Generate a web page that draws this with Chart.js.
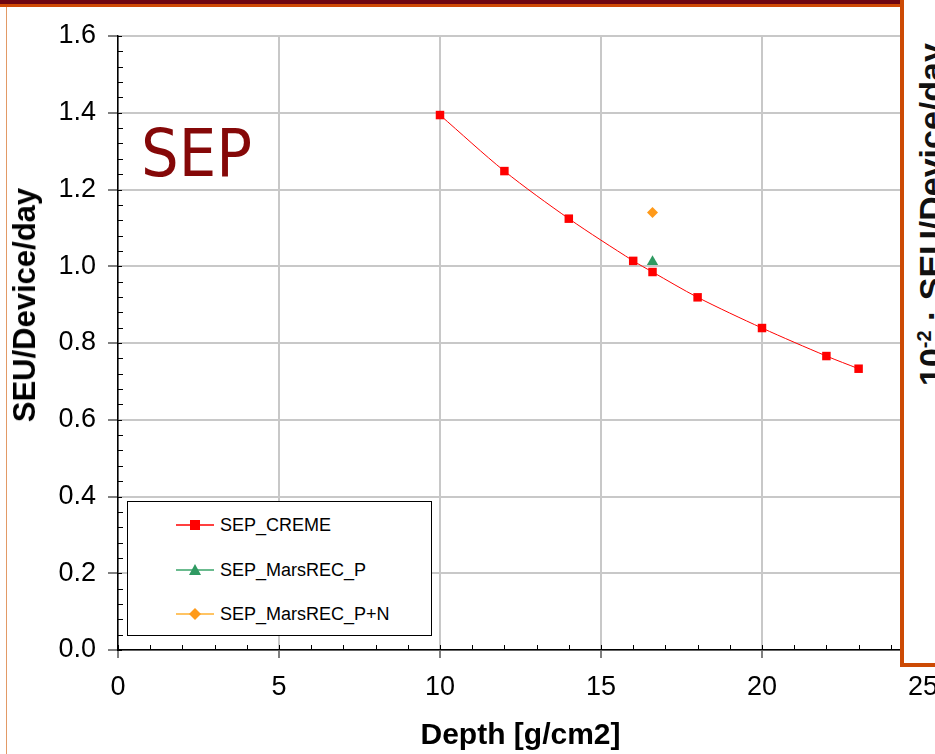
<!DOCTYPE html>
<html><head><meta charset="utf-8">
<script src="https://cdn.jsdelivr.net/npm/chart.js@4/dist/chart.umd.min.js"></script>
<style>
html,body{margin:0;padding:0;background:#fff;width:935px;height:754px;overflow:hidden;}
#wrap{position:relative;width:935px;height:754px;overflow:hidden;background:#fff;}
#c{position:absolute;left:0;top:0;}
#topbar1{position:absolute;left:0;top:0;width:935px;height:4px;background:#6e0612;}
#topbar2{position:absolute;left:0;top:4px;width:935px;height:3px;background:#cf4a06;}
#leftline{position:absolute;left:6px;top:7px;width:1px;height:747px;background:#e29a66;}
#rightbox{position:absolute;left:900px;top:0;width:60px;height:663px;border-left:4px solid #cc4a04;border-bottom:4px solid #cc4a04;background:#fff;}
#rtext{position:absolute;left:912px;top:386px;transform:rotate(-90deg);transform-origin:0 0;white-space:nowrap;font:bold 34px "Liberation Sans",Arial,sans-serif;color:#111;line-height:1.15;}
#rtext sup{font-size:20px;}
#ytitle{position:absolute;left:25px;top:305px;transform:translate(-50%,-50%) rotate(-90deg);white-space:nowrap;font:bold 31px "Liberation Sans",Arial,sans-serif;color:#000;}
#sep{position:absolute;left:141px;top:115px;font:66px "DejaVu Sans Condensed","DejaVu Sans",sans-serif;color:#850808;}
#legend{position:absolute;left:127px;top:501px;width:305px;height:135px;border:1px solid #000;background:#fff;box-sizing:border-box;}
.li{position:absolute;left:48px;height:22px;display:flex;align-items:center;font:18px "Liberation Sans",Arial,sans-serif;color:#000;}
.li svg{margin-right:6px;}
</style></head><body>
<div id="wrap">
<canvas id="c" width="935" height="754"></canvas>
<div id="topbar1"></div><div id="topbar2"></div><div id="leftline"></div>
<div id="sep">SEP</div>
<div id="ytitle"></div>
<div id="legend"></div>
<div id="rightbox"></div>
<div id="rtext">10<sup>-2</sup> · SEU/Device/day</div>
</div>
<script>
// ---- data ----
const depthCreme = [10, 12, 14, 16, 16.6, 18, 20, 22, 23];
const seuCreme   = [1.394, 1.248, 1.124, 1.014, 0.985, 0.919, 0.839, 0.766, 0.733];
const depthMarsP = [16.6];
const seuMarsP   = [1.012];
const depthMarsPN = [16.6];
const seuMarsPN   = [1.140];
const seriesNames = ["SEP_CREME", "SEP_MarsREC_P", "SEP_MarsREC_P+N"];
const xTickValues = [0, 5, 10, 15, 20, 25];
const yTickValues = [0.0, 0.2, 0.4, 0.6, 0.8, 1.0, 1.2, 1.4, 1.6];
const xTitle = "Depth [g/cm2]";
const yTitle = "SEU/Device/day";

const colors = ["#ff0000", "#2f9a62", "#ff9a1a"];
const lineColors = ["#ff0000", "#3aa46a", "#ffb030"];
const styles = ["rect", "triangle", "rectRot"];

document.getElementById('ytitle').textContent = yTitle;

function pts(xs, ys){ return xs.map((x,i)=>({x:x, y:ys[i]})); }

const minorTicks = {
  id: 'minorTicks',
  afterDraw(chart){
    const ctx = chart.ctx, xs = chart.scales.x, ys = chart.scales.y;
    const x0 = xs.getPixelForValue(0), y0 = ys.getPixelForValue(0);
    ctx.save();
    ctx.strokeStyle = '#000'; ctx.lineWidth = 1;
    ctx.beginPath();
    for (let i = 0; i <= 40; i++) {
      const v = i * 0.04;
      const p = Math.round(ys.getPixelForValue(v)) + 0.5;
      const major = i % 5 === 0;
      ctx.moveTo(x0, p); ctx.lineTo(x0 + (major ? 4 : 5), p);
    }
    for (let i = 0; i <= 25; i++) {
      const p = Math.round(xs.getPixelForValue(i)) + 0.5;
      ctx.moveTo(p, y0); ctx.lineTo(p, y0 - 5);
    }
    ctx.stroke();
    ctx.restore();
  }
};

const chart = new Chart(document.getElementById('c'), {
  type: 'scatter',
  data: {
    datasets: [
      { label: seriesNames[0], data: pts(depthCreme, seuCreme), showLine: true, tension: 0.3,
        borderColor: colors[0], backgroundColor: colors[0], borderWidth: 1,
        pointStyle: styles[0], pointRadius: 6, pointBorderWidth: 0 },
      { label: seriesNames[1], data: pts(depthMarsP, seuMarsP), showLine: false,
        borderColor: colors[1], backgroundColor: colors[1],
        pointStyle: styles[1], pointRadius: 6.5, pointBorderWidth: 0 },
      { label: seriesNames[2], data: pts(depthMarsPN, seuMarsPN), showLine: false,
        borderColor: colors[2], backgroundColor: colors[2],
        pointStyle: styles[2], pointRadius: 5.5, pointBorderWidth: 0 }
    ]
  },
  options: {
    responsive: false, animation: false, devicePixelRatio: 1,
    layout: { padding: { left: 0, top: 36, right: 12, bottom: 0 } },
    plugins: { legend: { display: false }, tooltip: { enabled: false } },
    scales: {
      x: {
        type: 'linear', min: 0, max: 25,
        afterBuildTicks: s => { s.ticks = xTickValues.map(v => ({ value: v })); },
        afterFit: s => { s.height = 104; s.paddingLeft = 0; s.paddingRight = 0; },
        ticks: { color: '#000', padding: 13, font: { family: '"Liberation Sans Narrow","Liberation Sans",Arial', size: 27 } },
        grid: { color: '#c8c8c8', lineWidth: 2, tickColor: '#000', tickLength: 8, tickWidth: 1 },
        border: { color: '#000', width: 1.5 },
        title: { display: true, text: xTitle, color: '#000', padding: { top: 0, bottom: 0 },
                 font: { family: '"Liberation Sans Narrow","Liberation Sans",Arial', size: 30, weight: 'bold' } }
      },
      y: {
        min: 0, max: 1.6,
        afterBuildTicks: s => { s.ticks = yTickValues.map(v => ({ value: v })); },
        afterFit: s => { s.width = 118; s.paddingTop = 0; s.paddingBottom = 0; },
        ticks: { color: '#000', padding: 12, callback: v => Number(v).toFixed(1),
                 font: { family: '"Liberation Sans",Arial', size: 27 } },
        grid: { color: '#c8c8c8', lineWidth: 2, tickColor: '#000', tickLength: 10, tickWidth: 1 },
        border: { color: '#000', width: 1.5 },
        title: { display: false }
      }
    }
  },
  plugins: [minorTicks]
});

// ---- HTML legend built from the series ----
const legend = document.getElementById('legend');
const rowTops = [12, 57, 101];
seriesNames.forEach((name, i) => {
  const row = document.createElement('div');
  row.className = 'li';
  row.style.top = rowTops[i] + 'px';
  let marker = '';
  if (styles[i] === 'rect') marker = `<rect x="14" y="3" width="10" height="10" fill="${colors[i]}"/>`;
  if (styles[i] === 'triangle') marker = `<polygon points="19,2 25,13 13,13" fill="${colors[i]}"/>`;
  if (styles[i] === 'rectRot') marker = `<polygon points="19,2 25,8 19,14 13,8" fill="${colors[i]}"/>`;
  row.innerHTML = `<svg width="38" height="16"><line x1="0" y1="8" x2="38" y2="8" stroke="${lineColors[i]}" stroke-width="1.5"/>${marker}</svg><span>${name}</span>`;
  legend.appendChild(row);
});
</script>
</body></html>
